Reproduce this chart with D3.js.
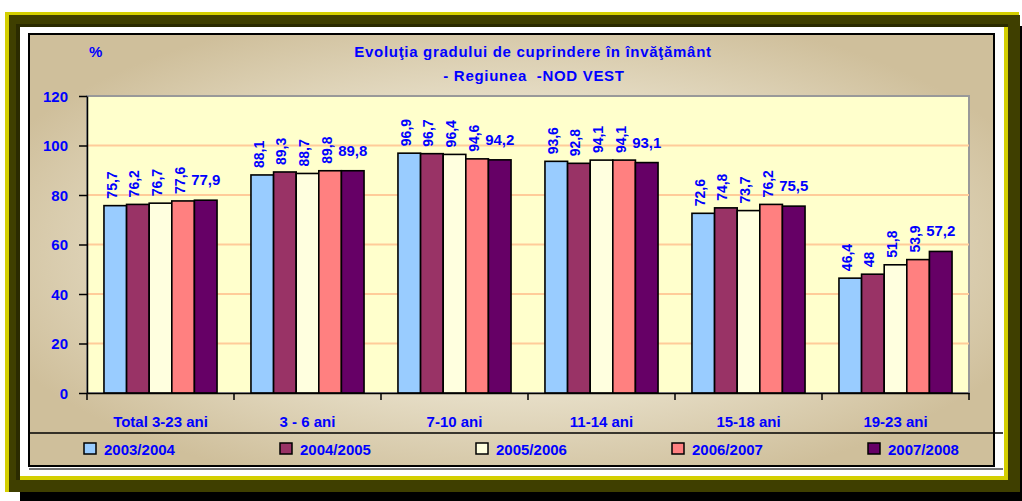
<!DOCTYPE html>
<html>
<head>
<meta charset="utf-8">
<script src="https://cdn.jsdelivr.net/npm/d3@7"></script>
<style>
  body { margin: 0; background: #fff; }
  svg { display: block; }
  text { font-family: "Liberation Sans", Arial, sans-serif; font-weight: bold; fill: #0000ff; }
</style>
</head>
<body>
<div id="chart"></div>
<script>
// Data
var categories = ["Total 3-23 ani", "3 - 6 ani", "7-10 ani", "11-14 ani", "15-18 ani", "19-23 ani"];
var seriesNames = ["2003/2004", "2004/2005", "2005/2006", "2006/2007", "2007/2008"];
var s2003 = [75.7, 88.1, 96.9, 93.6, 72.6, 46.4];
var s2004 = [76.2, 89.3, 96.7, 92.8, 74.8, 48];
var s2005 = [76.7, 88.7, 96.4, 94.1, 73.7, 51.8];
var s2006 = [77.6, 89.8, 94.6, 94.1, 76.2, 53.9];
var s2007 = [77.9, 89.8, 94.2, 93.1, 75.5, 57.2];
var yTicks = [0, 20, 40, 60, 80, 100, 120];
var titleLines = ["Evolu\u0163ia gradului de cuprindere \u00een \u00eenv\u0103\u0163\u0103m\u00e2nt", "- Regiunea  -NOD VEST"];

var seriesValues = [s2003, s2004, s2005, s2006, s2007];
var colors = ["#99ccff", "#993366", "#ffffdf", "#ff8080", "#660066"];

var svgWidth = 1022;
var svgHeight = 501;

var svg = d3.select("#chart")
  .append("svg")
  .attr("width", svgWidth)
  .attr("height", svgHeight);

// tan background gradient
var grad = svg.append("defs").append("radialGradient")
  .attr("id", "tan")
  .attr("cx", "50%").attr("cy", "50%").attr("r", "58%");
grad.append("stop").attr("offset", "0%").attr("stop-color", "#f1ede0");
grad.append("stop").attr("offset", "55%").attr("stop-color", "#e8e0ca");
grad.append("stop").attr("offset", "100%").attr("stop-color", "#cfbf9b");

// outer frame (yellow / olive / shadow)
svg.append("rect").attr("x", 20).attr("y", 26).attr("width", 1002).attr("height", 475).attr("fill", "#000");
svg.append("rect").attr("x", 5).attr("y", 12).attr("width", 1014).attr("height", 480).attr("fill", "#d4cf00");
svg.append("rect").attr("x", 9).attr("y", 15).attr("width", 1011).attr("height", 477).attr("fill", "#3f3f00");
svg.append("rect").attr("x", 16).attr("y", 24).attr("width", 992).attr("height", 456).attr("fill", "#2b2b00");
svg.append("rect").attr("x", 20).attr("y", 27).attr("width", 988).attr("height", 453).attr("fill", "#d4cf00");
svg.append("rect").attr("x", 20).attr("y", 27).attr("width", 984).attr("height", 449).attr("fill", "#fff");

// chart area
svg.append("line").attr("x1", 29).attr("x2", 1003).attr("y1", 469).attr("y2", 469)
  .attr("stroke", "#444").attr("stroke-width", 1.5);
svg.append("rect").attr("x", 29).attr("y", 34).attr("width", 965).attr("height", 432)
  .attr("fill", "url(#tan)").attr("stroke", "#000").attr("stroke-width", 2);
svg.append("line").attr("x1", 29).attr("x2", 1003).attr("y1", 433).attr("y2", 433)
  .attr("stroke", "#000").attr("stroke-width", 1.5);

// scales
var x0 = d3.scaleBand().domain(categories).range([87, 969]).padding(0);
var x1 = d3.scaleBand().domain(seriesNames).range([0, x0.bandwidth()])
  .paddingInner(0).paddingOuter(0.75);
var y = d3.scaleLinear().domain([0, 120]).range([393, 96]);

// plot area
svg.append("rect").attr("x", 87).attr("y", y(120)).attr("width", 882).attr("height", y(0) - y(120))
  .attr("fill", "#ffffcc").attr("stroke", "#999").attr("stroke-width", 2);

svg.append("g").selectAll("line").data(yTicks.filter(d => d > 0 && d < 120)).enter()
  .append("line")
  .attr("x1", 87).attr("x2", 969)
  .attr("y1", d => y(d)).attr("y2", d => y(d))
  .attr("stroke", "#ffcc99").attr("stroke-width", 2);

// bars
var fmt = d => String(d).replace(".", ",");
seriesNames.forEach(function(name, i) {
  var g = svg.append("g");
  g.selectAll("rect").data(seriesValues[i]).enter()
    .append("rect")
    .attr("x", (d, j) => x0(categories[j]) + x1(name))
    .attr("y", d => y(d))
    .attr("width", x1.bandwidth())
    .attr("height", d => y(0) - y(d))
    .attr("fill", colors[i])
    .attr("stroke", "#000")
    .attr("stroke-width", 1.6);
});

// value labels - last series is horizontal, the others rotated
seriesNames.forEach(function(name, i) {
  var last = i === seriesNames.length - 1;
  var g = svg.append("g");
  g.selectAll("text").data(seriesValues[i]).enter()
    .append("text")
    .attr("font-size", last ? 15 : 14)
    .attr("transform", function(d, j) {
      var cx = x0(categories[j]) + x1(name) + x1.bandwidth() / 2;
      if (last) return `translate(${cx}, ${y(d) - 15})`;
      return `translate(${cx + 1.5}, ${y(d) - 7}) rotate(-90)`;
    })
    .attr("text-anchor", last ? "middle" : "start")
    .text(fmt);
});

// y axis
var leftAxis = d3.axisLeft(y).tickValues(yTicks).tickSize(8).tickSizeOuter(0).tickPadding(11);
var yAxis = svg.append("g").attr("transform", "translate(87,0)").call(leftAxis);
yAxis.selectAll("text").attr("font-size", 15).attr("dy", "0.36em");
yAxis.selectAll("line, path").attr("stroke", "#000").attr("stroke-width", 1.5);

// x axis
var bottomAxis = d3.axisBottom(x0).tickSize(0).tickSizeOuter(0).tickPadding(23);
var xAxis = svg.append("g").attr("transform", "translate(0,393)").call(bottomAxis);
xAxis.selectAll("text").attr("font-size", 15);
xAxis.select("path").attr("stroke", "#000").attr("stroke-width", 1.5);
var bounds = categories.map(c => x0(c)).concat([x0.range()[1]]);
svg.append("g").selectAll("line").data(bounds).enter()
  .append("line")
  .attr("x1", d => d).attr("x2", d => d)
  .attr("y1", 393).attr("y2", 400)
  .attr("stroke", "#000").attr("stroke-width", 1.5);

// titles
svg.append("text").attr("x", 533).attr("y", 57).attr("text-anchor", "middle")
  .attr("font-size", 15).attr("letter-spacing", 0.7).text(titleLines[0]);
svg.append("text").attr("x", 534).attr("y", 81).attr("text-anchor", "middle")
  .attr("font-size", 15).attr("letter-spacing", 0.7)
  .style("white-space", "pre").text(titleLines[1]);
svg.append("text").attr("x", 89).attr("y", 57).attr("font-size", 15).text("%");

// legend
var legend = svg.append("g").selectAll("g").data(seriesNames).enter()
  .append("g")
  .attr("transform", (d, i) => `translate(${84 + i * 196}, 443)`);
legend.append("rect")
  .attr("width", 12).attr("height", 11)
  .attr("fill", (d, i) => colors[i])
  .attr("stroke", "#000").attr("stroke-width", 1.5);
legend.append("text")
  .attr("x", 20).attr("y", 12)
  .attr("font-size", 15)
  .text(d => d);
</script>
</body>
</html>
